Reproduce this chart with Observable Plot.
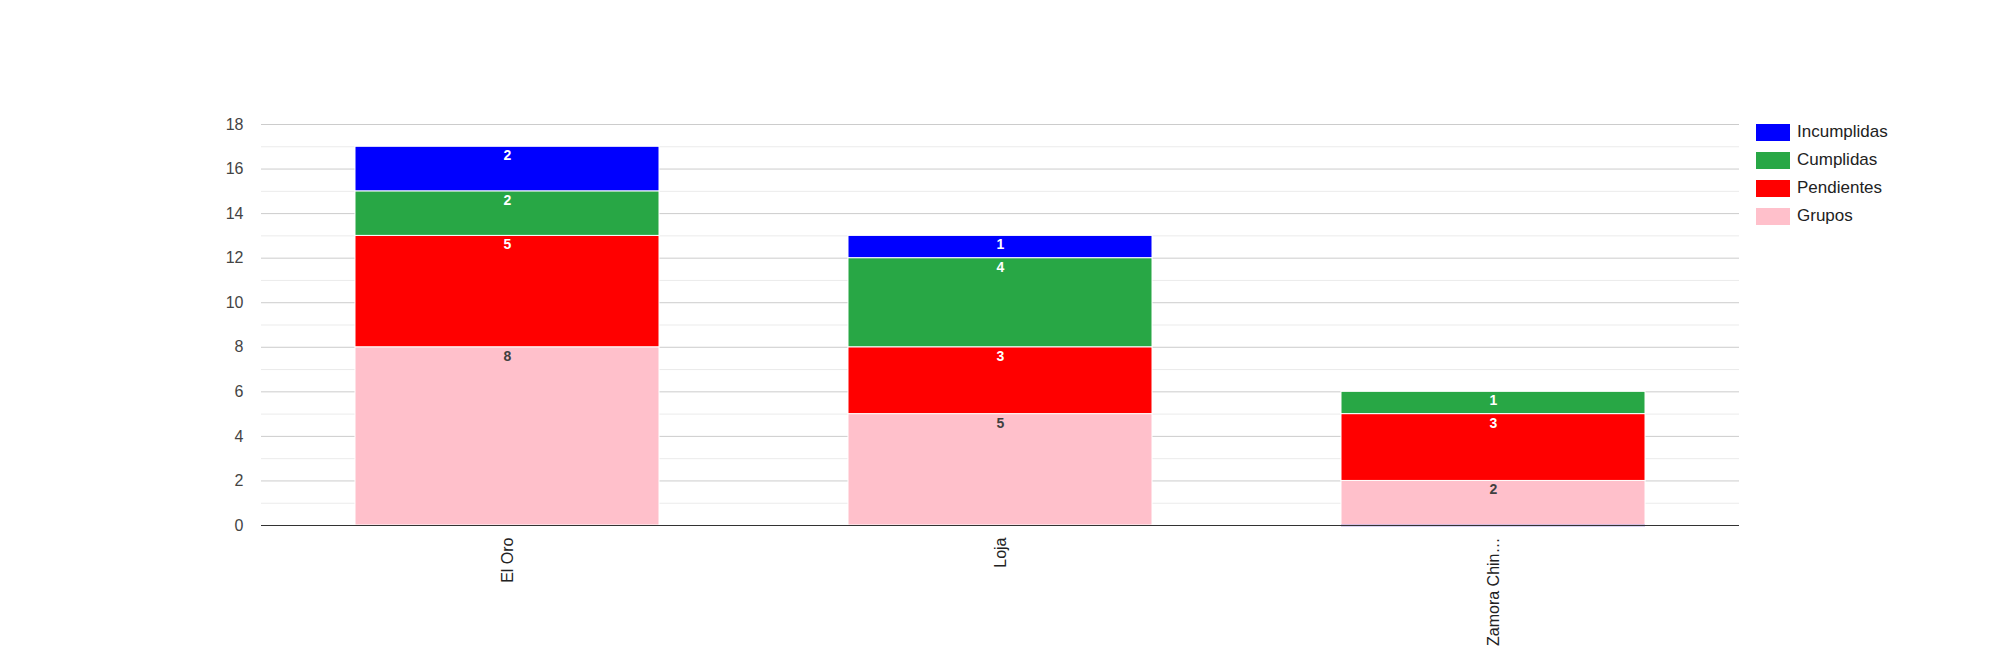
<!DOCTYPE html>
<html>
<head>
<meta charset="utf-8">
<script src="https://cdn.jsdelivr.net/npm/d3@7"></script>
<script src="https://cdn.jsdelivr.net/npm/@observablehq/plot@0.6"></script>
<style>
  body { margin: 0; background: #fff; font-family: "Liberation Sans", Arial, sans-serif; }
  #wrap { position: relative; width: 2000px; height: 650px; }
  #legend { position: absolute; left: 1756px; top: 118px; }
  .item { display: flex; align-items: center; height: 28px; font-size: 17px; color: #222; }
  .sw { width: 34px; height: 17px; margin-right: 7px; }
</style>
</head>
<body>
<div id="wrap">
  <div id="chart"></div>
  <div id="legend"></div>
</div>
<script>
/* Datos */
const provincias = ["El Oro", "Loja", "Zamora Chinchipe"]
const series = ["Grupos", "Pendientes", "Cumplidas", "Incumplidas"]
const colores = ["pink", "red", "#28a745", "blue"]
const grupos = [8, 5, 2]
const pendientes = [5, 3, 3]
const cumplidas = [2, 4, 1]
const incumplidas = [2, 1, 0]
const yTicks = [0, 2, 4, 6, 8, 10, 12, 14, 16, 18]

const valores = [grupos, pendientes, cumplidas, incumplidas]
let data = []
series.forEach((s, i) => {
  provincias.forEach((p, j) => {
    data.push({provincia: p, serie: s, valor: valores[i][j]})
  })
})

const corto = d => d.length > 12 ? d.slice(0, 11) + "…" : d

const chart = Plot.plot({
  width: 2000,
  height: 650,
  marginLeft: 261,
  marginRight: 261,
  marginTop: 124,
  marginBottom: 125,
  style: {fontFamily: '"Liberation Sans", Arial, sans-serif'},
  x: {domain: provincias, paddingInner: 0.383, paddingOuter: 0.19, label: null},
  y: {domain: [0, 18], label: null},
  color: {domain: series, range: colores},
  marks: [
    Plot.gridY(d3.range(1, 19, 2), {stroke: "#ebebeb", strokeOpacity: 1}),
    Plot.gridY(yTicks, {stroke: "#cccccc", strokeOpacity: 1}),
    Plot.barY(data, Plot.stackY({
      x: "provincia",
      y: "valor",
      fill: "serie",
      stroke: "white",
      strokeWidth: 1
    })),
    // barras de valor cero: linea fina como en el original
    Plot.tickY(data.filter(d => d.valor === 0), Plot.stackY2({
      x: "provincia",
      y: "valor",
      stroke: "#6a5acd",
      strokeWidth: 1.5
    })),
    Plot.text(data.filter(d => d.valor > 0), Plot.stackY2({
      x: "provincia",
      y: "valor",
      text: d => d.valor,
      fill: d => d.serie === "Grupos" ? "#404040" : "white",
      dy: 9,
      fontSize: 14,
      fontWeight: "bold"
    })),
    Plot.ruleY([0], {stroke: "#333"}),
    Plot.axisY({
      ticks: yTicks,
      tickSize: 0,
      tickPadding: 18,
      fontSize: 16,
      color: "#444"
    }),
    Plot.axisX({
      tickSize: 0,
      tickPadding: 12,
      tickRotate: -90,
      tickFormat: corto,
      fontSize: 16,
      color: "#222"
    })
  ]
})

d3.select('#chart').append(() => chart)

/* Leyenda */
const legend = d3.select('#legend')
series.slice().reverse().forEach(s => {
  const row = legend.append('div').attr('class', 'item')
  row.append('div').attr('class', 'sw').style('background', colores[series.indexOf(s)])
  row.append('span').text(s)
})
</script>
</body>
</html>
